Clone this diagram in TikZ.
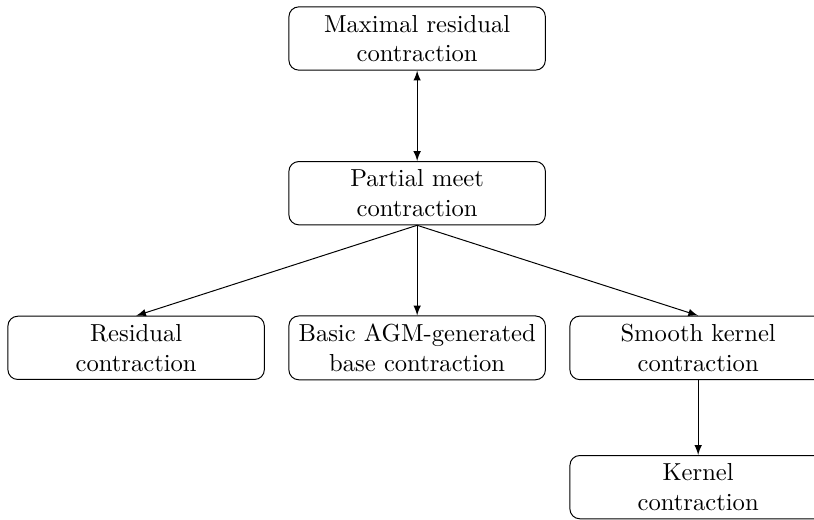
\documentclass[tikz,border=0pt]{standalone}
\usepackage{tikz}
\usetikzlibrary{arrows.meta, positioning}

\begin{document}
\begin{tikzpicture}[
    block/.style={rectangle, draw, rounded corners, text width=3.43cm, align=center, font=\normalsize},
    arrow/.style={-latex},
    twoway/.style={latex-latex}
]
\useasboundingbox (-5.96,0.55) rectangle (5.67,-6.87);
\node[block] (maxres) at (0,0) {Maximal residual\\ contraction};
\node[block] (pmeet) at (0,-2.21) {Partial meet\\ contraction};
\node[block] (resid) at (-4.015,-4.42) {Residual\\ contraction};
\node[block] (agm) at (0,-4.42) {Basic AGM-generated\\ base contraction};
\node[block] (smooth) at (4.015,-4.42) {Smooth kernel\\ contraction};
\node[block] (kernel) at (4.015,-6.41) {Kernel\\ contraction};

\draw[twoway] (maxres) -- (pmeet);
\draw[arrow] (pmeet.south) -- (resid.north);
\draw[arrow] (pmeet.south) -- (agm.north);
\draw[arrow] (pmeet.south) -- (smooth.north);
\draw[arrow] (smooth) -- (kernel);
\end{tikzpicture}
\end{document}
